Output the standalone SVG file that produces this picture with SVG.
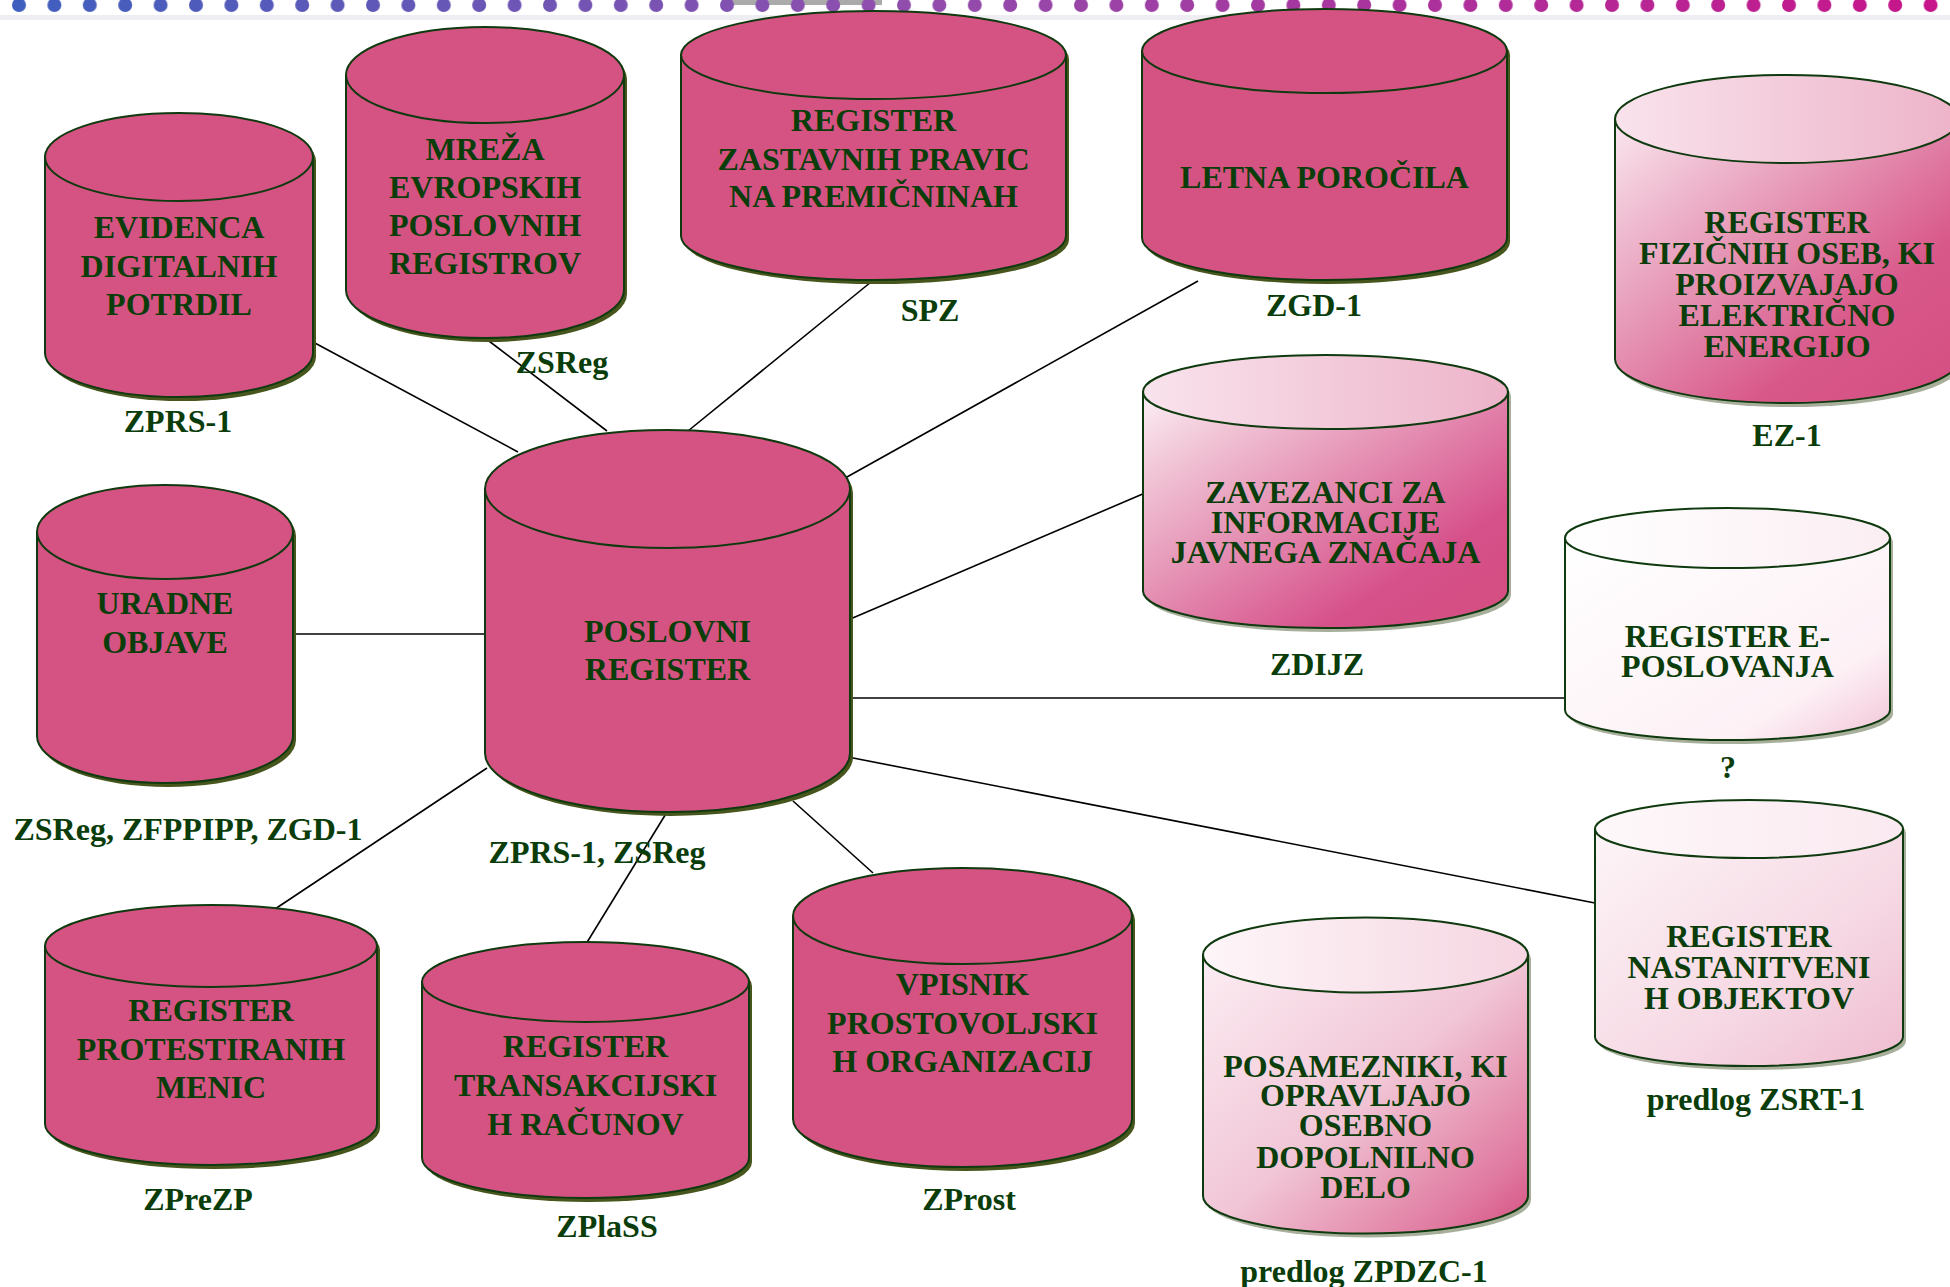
<svg xmlns="http://www.w3.org/2000/svg" width="1950" height="1287" viewBox="0 0 1950 1287">
<defs>
<style>
.t{font-family:"Liberation Serif","Times New Roman",serif;font-weight:bold;font-size:32px;fill:#0a3d0a;text-anchor:middle}
.body{stroke:#0f3a0f;stroke-width:2}
.top{stroke:#0f3a0f;stroke-width:2}
.pink{fill:#d55383}
.shadow{fill:#46561c}
.shadowl{fill:#5e6e48;opacity:0.55}
.conn line{stroke:#000;stroke-width:1.6}
</style>
<linearGradient id="dotg" gradientUnits="userSpaceOnUse" x1="0" y1="0" x2="1950" y2="0">
<stop offset="0" stop-color="#3d5fbf"/>
<stop offset="0.45" stop-color="#8f4fae"/>
<stop offset="1" stop-color="#c8148a"/>
</linearGradient>
<pattern id="dotp" x="12" y="0" width="35.4" height="16" patternUnits="userSpaceOnUse">
<circle cx="7" cy="5" r="7" fill="#fff"/>
</pattern>
<mask id="dotm"><rect x="0" y="0" width="1950" height="16" fill="url(#dotp)"/></mask>
<linearGradient id="gEZb" x1="0" y1="0" x2="1" y2="1">
<stop offset="0" stop-color="#fbe8f0"/>
<stop offset="0.2" stop-color="#efbdd1"/>
<stop offset="0.7" stop-color="#d8588a"/>
<stop offset="1" stop-color="#d44e80"/>
</linearGradient>
<linearGradient id="gEZt" x1="0" y1="0" x2="1" y2="0">
<stop offset="0" stop-color="#f9e3ec"/>
<stop offset="1" stop-color="#edb3c9"/>
</linearGradient>
<linearGradient id="gZAb" x1="0" y1="0" x2="1" y2="1">
<stop offset="0" stop-color="#fcf0f5"/>
<stop offset="0.2" stop-color="#f0c2d4"/>
<stop offset="0.75" stop-color="#d6508a"/>
<stop offset="1" stop-color="#d44e80"/>
</linearGradient>
<linearGradient id="gPOb" x1="0" y1="0" x2="1" y2="1">
<stop offset="0" stop-color="#fcedf3"/>
<stop offset="0.5" stop-color="#f1c6d6"/>
<stop offset="0.85" stop-color="#e07aa0"/>
<stop offset="1" stop-color="#d44e80"/>
</linearGradient>
<linearGradient id="gPOt" x1="0" y1="0" x2="1" y2="0">
<stop offset="0" stop-color="#fef6f9"/>
<stop offset="1" stop-color="#f5d5e1"/>
</linearGradient>
<linearGradient id="gEPb" x1="0" y1="0" x2="1" y2="1">
<stop offset="0" stop-color="#ffffff"/>
<stop offset="0.75" stop-color="#fdf1f6"/>
<stop offset="1" stop-color="#f2c4d6"/>
</linearGradient>
<linearGradient id="gEPt" x1="0" y1="0" x2="1" y2="0">
<stop offset="0" stop-color="#ffffff"/>
<stop offset="1" stop-color="#fbeef3"/>
</linearGradient>
<linearGradient id="gNAb" x1="0" y1="0" x2="1" y2="1">
<stop offset="0" stop-color="#fdf5f8"/>
<stop offset="0.6" stop-color="#f6d9e4"/>
<stop offset="1" stop-color="#efbcd0"/>
</linearGradient>
<linearGradient id="gNAt" x1="0" y1="0" x2="1" y2="0">
<stop offset="0" stop-color="#fef8fa"/>
<stop offset="1" stop-color="#fae9f0"/>
</linearGradient>
</defs>
<rect x="0" y="0" width="1950" height="1287" fill="#fff"/>
<g id="border">
<rect x="730" y="0" width="152" height="5" fill="#aaaaaa"/>
<rect x="0" y="15" width="1950" height="5" fill="#eeeef2"/>
<rect x="0" y="0" width="1950" height="16" fill="url(#dotg)" mask="url(#dotm)"/>
</g>
<g class="conn" id="connectors">
<line x1="313" y1="342" x2="518" y2="452"/>
<line x1="485" y1="338" x2="607" y2="431"/>
<line x1="871" y1="282" x2="688" y2="431"/>
<line x1="1198" y1="281" x2="838" y2="482"/>
<line x1="1145" y1="493" x2="848" y2="620"/>
<line x1="848" y1="698" x2="1567" y2="698"/>
<line x1="848" y1="757" x2="1600" y2="904"/>
<line x1="793" y1="801" x2="873" y2="873"/>
<line x1="667" y1="812" x2="586" y2="944"/>
<line x1="487" y1="768" x2="269" y2="913"/>
<line x1="291" y1="634" x2="487" y2="634"/>
</g>
<g id="n-evid">
<path class="shadow" transform="translate(3,4)" d="M45 157 A134 44 0 0 1 313 157 L313 353 A134 44 0 0 1 45 353 Z"/>
<path class="body pink" d="M45 157 L45 353 A134 44 0 0 0 313 353 L313 157 Z"/>
<ellipse class="top pink" cx="179" cy="157" rx="134" ry="44"/>
<text class="t" x="179" y="238">EVIDENCA</text>
<text class="t" x="179" y="277">DIGITALNIH</text>
<text class="t" x="179" y="315">POTRDIL</text>
<text class="t" x="178" y="432">ZPRS-1</text>
</g>
<g id="n-mreza">
<path class="shadow" transform="translate(3,4)" d="M346 75 A139 48 0 0 1 624 75 L624 290 A139 48 0 0 1 346 290 Z"/>
<path class="body pink" d="M346 75 L346 290 A139 48 0 0 0 624 290 L624 75 Z"/>
<ellipse class="top pink" cx="485" cy="75" rx="139" ry="48"/>
<text class="t" x="485" y="160">MREŽA</text>
<text class="t" x="485" y="198">EVROPSKIH</text>
<text class="t" x="485" y="236">POSLOVNIH</text>
<text class="t" x="485" y="274">REGISTROV</text>
<text class="t" x="562" y="373">ZSReg</text>
</g>
<g id="n-spz">
<path class="shadow" transform="translate(3,4)" d="M681 55 A192.5 44 0 0 1 1066 55 L1066 236 A192.5 44 0 0 1 681 236 Z"/>
<path class="body pink" d="M681 55 L681 236 A192.5 44 0 0 0 1066 236 L1066 55 Z"/>
<ellipse class="top pink" cx="873.5" cy="55" rx="192.5" ry="44"/>
<text class="t" x="873.5" y="131">REGISTER</text>
<text class="t" x="873.5" y="170">ZASTAVNIH PRAVIC</text>
<text class="t" x="873.5" y="207">NA PREMIČNINAH</text>
<text class="t" x="930" y="321">SPZ</text>
</g>
<g id="n-letna">
<path class="shadow" transform="translate(3,4)" d="M1142 51 A182.5 42 0 0 1 1507 51 L1507 238 A182.5 42 0 0 1 1142 238 Z"/>
<path class="body pink" d="M1142 51 L1142 238 A182.5 42 0 0 0 1507 238 L1507 51 Z"/>
<ellipse class="top pink" cx="1324.5" cy="51" rx="182.5" ry="42"/>
<text class="t" x="1324.5" y="188">LETNA POROČILA</text>
<text class="t" x="1314" y="316">ZGD-1</text>
</g>
<g id="n-ez">
<path class="shadowl" transform="translate(3,4)" d="M1615 119 A172 44 0 0 1 1959 119 L1959 359 A172 44 0 0 1 1615 359 Z"/>
<path class="body" fill="url(#gEZb)" d="M1615 119 L1615 359 A172 44 0 0 0 1959 359 L1959 119 Z"/>
<ellipse class="top" fill="url(#gEZt)" cx="1787" cy="119" rx="172" ry="44"/>
<text class="t" x="1787" y="233">REGISTER</text>
<text class="t" x="1787" y="264">FIZIČNIH OSEB, KI</text>
<text class="t" x="1787" y="295">PROIZVAJAJO</text>
<text class="t" x="1787" y="326">ELEKTRIČNO</text>
<text class="t" x="1787" y="357">ENERGIJO</text>
<text class="t" x="1787" y="446">EZ-1</text>
</g>
<g id="n-zavez">
<path class="shadowl" transform="translate(3,4)" d="M1143 392 A182.5 37 0 0 1 1508 392 L1508 591 A182.5 37 0 0 1 1143 591 Z"/>
<path class="body" fill="url(#gZAb)" d="M1143 392 L1143 591 A182.5 37 0 0 0 1508 591 L1508 392 Z"/>
<ellipse class="top" fill="url(#gEZt)" cx="1325.5" cy="392" rx="182.5" ry="37"/>
<text class="t" x="1325.5" y="503">ZAVEZANCI ZA</text>
<text class="t" x="1325.5" y="533">INFORMACIJE</text>
<text class="t" x="1325.5" y="563">JAVNEGA ZNAČAJA</text>
<text class="t" x="1317" y="675">ZDIJZ</text>
</g>
<g id="n-epos">
<path class="shadowl" transform="translate(3,4)" d="M1565 538 A162.5 30 0 0 1 1890 538 L1890 710 A162.5 30 0 0 1 1565 710 Z"/>
<path class="body" fill="url(#gEPb)" d="M1565 538 L1565 710 A162.5 30 0 0 0 1890 710 L1890 538 Z"/>
<ellipse class="top" fill="url(#gEPt)" cx="1727.5" cy="538" rx="162.5" ry="30"/>
<text class="t" x="1727.5" y="647">REGISTER E-</text>
<text class="t" x="1727.5" y="677">POSLOVANJA</text>
<text class="t" x="1728" y="778">?</text>
</g>
<g id="n-nast">
<path class="shadowl" transform="translate(3,4)" d="M1595 829 A154 29 0 0 1 1903 829 L1903 1037 A154 29 0 0 1 1595 1037 Z"/>
<path class="body" fill="url(#gNAb)" d="M1595 829 L1595 1037 A154 29 0 0 0 1903 1037 L1903 829 Z"/>
<ellipse class="top" fill="url(#gNAt)" cx="1749" cy="829" rx="154" ry="29"/>
<text class="t" x="1749" y="947">REGISTER</text>
<text class="t" x="1749" y="978">NASTANITVENI</text>
<text class="t" x="1749" y="1009">H OBJEKTOV</text>
<text class="t" x="1756" y="1110">predlog ZSRT-1</text>
</g>
<g id="n-posam">
<path class="shadowl" transform="translate(3,4)" d="M1203 955 A162.5 37.5 0 0 1 1528 955 L1528 1196 A162.5 37.5 0 0 1 1203 1196 Z"/>
<path class="body" fill="url(#gPOb)" d="M1203 955 L1203 1196 A162.5 37.5 0 0 0 1528 1196 L1528 955 Z"/>
<ellipse class="top" fill="url(#gPOt)" cx="1365.5" cy="955" rx="162.5" ry="37.5"/>
<text class="t" x="1365.5" y="1077">POSAMEZNIKI, KI</text>
<text class="t" x="1365.5" y="1106">OPRAVLJAJO</text>
<text class="t" x="1365.5" y="1136">OSEBNO</text>
<text class="t" x="1365.5" y="1168">DOPOLNILNO</text>
<text class="t" x="1365.5" y="1198">DELO</text>
<text class="t" x="1364" y="1282">predlog ZPDZC-1</text>
</g>
<g id="n-vpis">
<path class="shadow" transform="translate(3,4)" d="M793 916 A169.5 48 0 0 1 1132 916 L1132 1119 A169.5 48 0 0 1 793 1119 Z"/>
<path class="body pink" d="M793 916 L793 1119 A169.5 48 0 0 0 1132 1119 L1132 916 Z"/>
<ellipse class="top pink" cx="962.5" cy="916" rx="169.5" ry="48"/>
<text class="t" x="962.5" y="995">VPISNIK</text>
<text class="t" x="962.5" y="1034">PROSTOVOLJSKI</text>
<text class="t" x="962.5" y="1072">H ORGANIZACIJ</text>
<text class="t" x="969" y="1210">ZProst</text>
</g>
<g id="n-trans">
<path class="shadow" transform="translate(3,4)" d="M422 982 A163.5 40 0 0 1 749 982 L749 1158 A163.5 40 0 0 1 422 1158 Z"/>
<path class="body pink" d="M422 982 L422 1158 A163.5 40 0 0 0 749 1158 L749 982 Z"/>
<ellipse class="top pink" cx="585.5" cy="982" rx="163.5" ry="40"/>
<text class="t" x="585.5" y="1057">REGISTER</text>
<text class="t" x="585.5" y="1096">TRANSAKCIJSKI</text>
<text class="t" x="585.5" y="1135">H RAČUNOV</text>
<text class="t" x="607" y="1237">ZPlaSS</text>
</g>
<g id="n-prot">
<path class="shadow" transform="translate(3,4)" d="M45 946 A166 41 0 0 1 377 946 L377 1124 A166 41 0 0 1 45 1124 Z"/>
<path class="body pink" d="M45 946 L45 1124 A166 41 0 0 0 377 1124 L377 946 Z"/>
<ellipse class="top pink" cx="211" cy="946" rx="166" ry="41"/>
<text class="t" x="211" y="1021">REGISTER</text>
<text class="t" x="211" y="1060">PROTESTIRANIH</text>
<text class="t" x="211" y="1098">MENIC</text>
<text class="t" x="198" y="1210">ZPreZP</text>
</g>
<g id="n-uradne">
<path class="shadow" transform="translate(3,4)" d="M37 532 A128 47 0 0 1 293 532 L293 736 A128 47 0 0 1 37 736 Z"/>
<path class="body pink" d="M37 532 L37 736 A128 47 0 0 0 293 736 L293 532 Z"/>
<ellipse class="top pink" cx="165" cy="532" rx="128" ry="47"/>
<text class="t" x="165" y="614">URADNE</text>
<text class="t" x="165" y="653">OBJAVE</text>
<text class="t" x="188" y="840">ZSReg, ZFPPIPP, ZGD-1</text>
</g>
<g id="n-pr">
<path class="shadow" transform="translate(3,4)" d="M485 489 A182.5 59 0 0 1 850 489 L850 753 A182.5 59 0 0 1 485 753 Z"/>
<path class="body pink" d="M485 489 L485 753 A182.5 59 0 0 0 850 753 L850 489 Z"/>
<ellipse class="top pink" cx="667.5" cy="489" rx="182.5" ry="59"/>
<text class="t" x="667.5" y="642">POSLOVNI</text>
<text class="t" x="667.5" y="680">REGISTER</text>
<text class="t" x="597" y="863">ZPRS-1, ZSReg</text>
</g>
</svg>
